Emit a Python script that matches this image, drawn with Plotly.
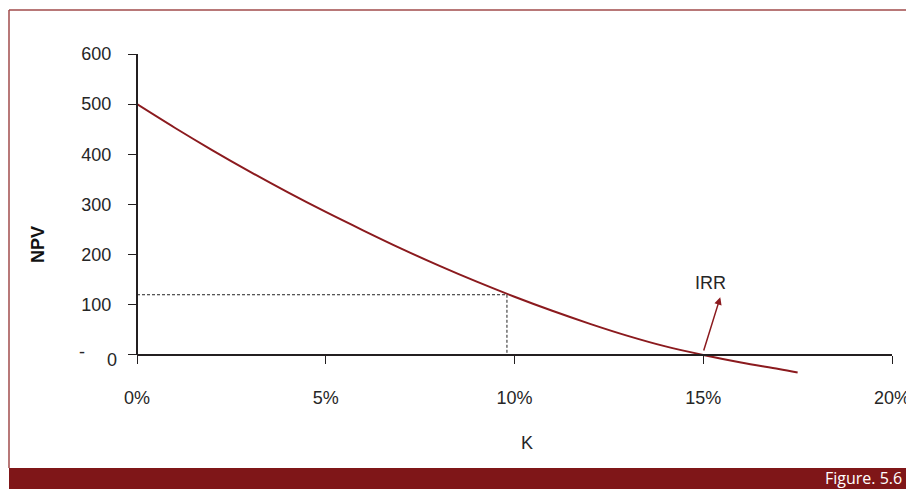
import plotly.graph_objects as go

# ---- data ----
k_rate = [0.00, 0.01, 0.02, 0.03, 0.04, 0.05, 0.06, 0.07, 0.08, 0.09,
          0.10, 0.11, 0.12, 0.13, 0.14, 0.15, 0.16, 0.17, 0.175]
npv = [500, 453, 408, 365, 324, 285, 248, 212, 178, 146,
       116, 88, 62, 38, 17, 0, -15, -28, -35]

dash_k = 0.098
dash_npv = 120

irr_k = 0.15
irr_label = "IRR"

x_tickvals = [0.00, 0.05, 0.10, 0.15, 0.20]
x_ticktext = ["0%", "5%", "10%", "15%", "20%"]
y_tickvals = [0, 100, 200, 300, 400, 500, 600]
y_ticktext = ["", "100", "200", "300", "400", "500", "600"]

x_title = "K"
y_title = "NPV"
fig_label = "Figure. 5.6"

# ---- layout geometry (pixels) ----
W, H = 906, 489
L, R, T, B = 137, 892, 54, 380
YMIN, YMAX = -50, 600
CURVE = "#8b1a1e"
INK = "#231f20"
TXT = "#262626"
FONT = "Liberation Sans, Arial, sans-serif"


def px(x):
    return (x - L) / (R - L)


def py(y):
    return (B - y) / (B - T)


fig = go.Figure()

fig.add_trace(go.Scatter(
    x=[0, dash_k, dash_k], y=[dash_npv, dash_npv, 0],
    mode="lines", line=dict(color="#222222", width=1, dash="3px,2px"),
    hoverinfo="skip", showlegend=False))

fig.add_trace(go.Scatter(
    x=k_rate, y=npv, mode="lines",
    line=dict(color=CURVE, width=2, shape="spline"),
    showlegend=False))

fig.update_layout(
    width=W, height=H,
    margin=dict(l=L, r=W - R, t=T, b=H - B, pad=0, autoexpand=False),
    paper_bgcolor="white", plot_bgcolor="white",
    font=dict(family=FONT, size=18, color=TXT),
    xaxis=dict(
        range=[0, 0.2], tickvals=x_tickvals, ticktext=x_ticktext,
        anchor="free", position=(0 - YMIN) / (YMAX - YMIN),
        showline=True, linecolor=INK, linewidth=2,
        ticks="outside", ticklen=8, tickwidth=1, tickcolor=INK,
        ticklabelstandoff=18, ticklabeloverflow="allow", automargin=False,
        showgrid=False, zeroline=False,
        tickfont=dict(size=18, color=TXT, family=FONT),
    ),
    yaxis=dict(
        range=[YMIN, YMAX], tickvals=y_tickvals, ticktext=y_ticktext,
        showline=False, ticks="outside", ticklen=8, tickwidth=1,
        tickcolor=INK, ticklabelstandoff=13, automargin=False,
        showgrid=False, zeroline=False,
        tickfont=dict(size=18, color=TXT, family=FONT),
    ),
    shapes=[
        # y axis line from 0 to 600
        dict(type="line", xref="paper", yref="y", x0=0, x1=0,
             y0=0, y1=YMAX, line=dict(color=INK, width=2)),
        # frame
        dict(type="line", xref="paper", yref="paper", x0=px(9), x1=px(906),
             y0=py(10), y1=py(10), line=dict(color="#a04b4b", width=1.5)),
        dict(type="line", xref="paper", yref="paper", x0=px(9), x1=px(9),
             y0=py(10), y1=py(468), line=dict(color="#a04b4b", width=1.5)),
        # bottom bar
        dict(type="rect", xref="paper", yref="paper", x0=px(9), x1=px(906),
             y0=py(468), y1=py(489), fillcolor="#7f1618",
             line=dict(width=0), layer="above"),
    ],
    annotations=[
        dict(xref="paper", yref="paper", x=px(82), y=py(352), text="-",
             showarrow=False, xanchor="center", yanchor="middle",
             font=dict(size=18, color=TXT, family=FONT)),
        dict(xref="paper", yref="paper", x=px(111.5), y=py(360), text="0",
             showarrow=False, xanchor="center", yanchor="middle",
             font=dict(size=18, color=TXT, family=FONT)),
        dict(xref="paper", yref="paper", x=px(38), y=py(245), text=y_title,
             showarrow=False, textangle=-90, xanchor="center", yanchor="middle",
             font=dict(size=18, color="#111111", family=FONT, weight="bold")),
        dict(xref="paper", yref="paper", x=px(527), y=py(443), text=x_title,
             showarrow=False, xanchor="center", yanchor="middle",
             font=dict(size=18, color=TXT, family=FONT)),
        dict(xref="paper", yref="paper", x=px(710), y=py(283), text=irr_label,
             showarrow=False, xanchor="center", yanchor="middle",
             font=dict(size=18, color=TXT, family=FONT)),
        dict(xref="x", yref="y", x=0.1545, y=115, axref="x", ayref="y",
             ax=irr_k, ay=6, text="", showarrow=True, arrowhead=2,
             arrowsize=1, arrowwidth=1.5, arrowcolor=CURVE),
        dict(xref="paper", yref="paper", x=px(904), y=py(478), text=fig_label,
             showarrow=False, xanchor="right", yanchor="middle",
             font=dict(size=16, color="white", family="Open Sans, sans-serif")),
    ],
)

fig.write_html("out.html")
